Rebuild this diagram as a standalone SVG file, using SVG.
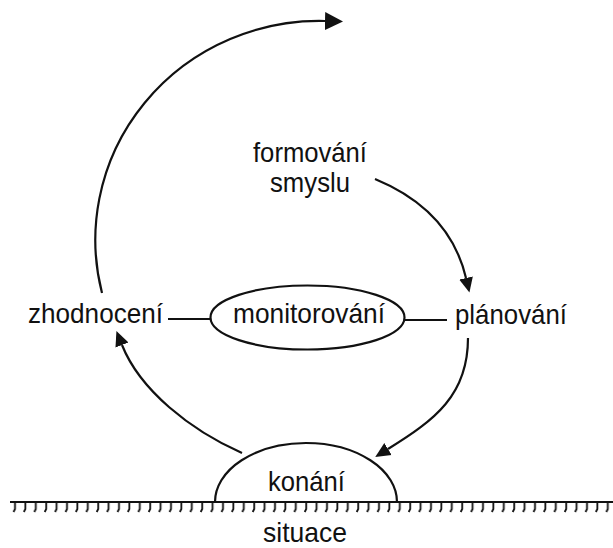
<svg xmlns="http://www.w3.org/2000/svg" width="613" height="548" viewBox="0 0 613 548">
<style>
text{font-family:"Liberation Sans Narrow","Liberation Sans",Arial,sans-serif;font-size:28px;fill:#111;}
.ln{fill:none;stroke:#111;stroke-width:2.2;}
</style>
<defs>
<marker id="big" markerUnits="userSpaceOnUse" markerWidth="20" markerHeight="20" viewBox="0 -10 20 20" refX="0" refY="0" orient="auto">
<path d="M0,-9 L18,0 L0,9 Z" fill="#111"/>
</marker>
<marker id="sm" markerUnits="userSpaceOnUse" markerWidth="18" markerHeight="18" viewBox="0 -9 18 18" refX="0" refY="0" orient="auto">
<path d="M0,-7 L15,0 L0,7 Z" fill="#111"/>
</marker>
<pattern id="hatch" patternUnits="userSpaceOnUse" x="10" y="502" width="10.4" height="12">
<path d="M5,0 V7 L3.5,10" fill="none" stroke="#111" stroke-width="1.8"/>
</pattern>
</defs>
<g id="ground">
<rect x="10" y="502" width="603" height="12" fill="url(#hatch)"/>
<line x1="10" y1="502" x2="613" y2="502" stroke="#111" stroke-width="2.2"/>
</g>
<g id="connectors">
<path class="ln" d="M102,293 A224,219 0 0 1 325,21" marker-end="url(#big)"/>
<path class="ln" d="M375,179 Q450,210 466,278" marker-end="url(#sm)"/>
<path class="ln" d="M468,338 C468,395 435,420 388,449" marker-end="url(#sm)"/>
<path class="ln" d="M242,453 C190,430 140,390 122,345" marker-end="url(#sm)"/>
<line class="ln" x1="168" y1="319" x2="210" y2="319"/>
<line class="ln" x1="405" y1="320" x2="447" y2="320"/>
</g>
<g id="formovani-smyslu">
<text x="253" y="162" textLength="114" lengthAdjust="spacingAndGlyphs">formování</text>
<text x="270" y="192" textLength="80" lengthAdjust="spacingAndGlyphs">smyslu</text>
</g>
<g id="zhodnoceni">
<text x="28" y="323" textLength="135" lengthAdjust="spacingAndGlyphs">zhodnocení</text>
</g>
<g id="monitorovani">
<ellipse class="ln" cx="307.5" cy="317.5" rx="97" ry="32"/>
<text x="233" y="323" textLength="152" lengthAdjust="spacingAndGlyphs">monitorování</text>
</g>
<g id="planovani">
<text x="455" y="324" textLength="112" lengthAdjust="spacingAndGlyphs">plánování</text>
</g>
<g id="konani">
<path class="ln" d="M215,502 A91,59 0 0 1 397,502"/>
<text x="268" y="491" textLength="77" lengthAdjust="spacingAndGlyphs">konání</text>
</g>
<g id="situace">
<text x="263" y="542" textLength="84" lengthAdjust="spacingAndGlyphs">situace</text>
</g>
</svg>
